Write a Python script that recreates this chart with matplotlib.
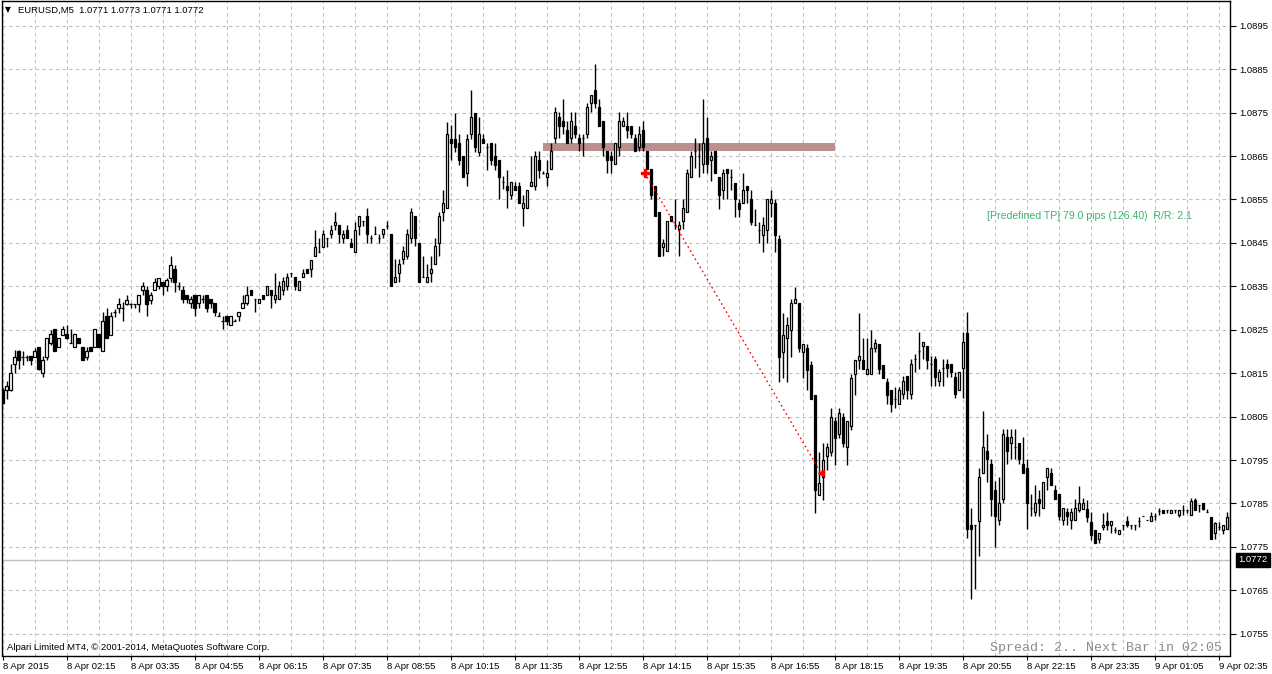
import matplotlib
matplotlib.use("Agg")
import matplotlib.pyplot as plt
from matplotlib.patches import Rectangle
import numpy as np

plt.rcParams['font.family'] = ['Liberation Sans', 'DejaVu Sans']

# EURUSD M5 candles (bar 0 = 8 Apr 00:55)
opens = [
    1.08112, 1.08112, 1.08112, 1.08171, 1.08201, 1.08188, 1.08187, 1.08190, 1.08188, 1.08210,
    1.08150, 1.08188, 1.08219, 1.08251, 1.08210, 1.08239, 1.08240, 1.08219, 1.08210, 1.08230,
    1.08210, 1.08188, 1.08210, 1.08210, 1.08240, 1.08200, 1.08281, 1.08239, 1.08290, 1.08299,
    1.08299, 1.08310, 1.08310, 1.08310, 1.08310, 1.08341, 1.08341, 1.08319, 1.08341, 1.08350,
    1.08360, 1.08350, 1.08370, 1.08389, 1.08350, 1.08342, 1.08331, 1.08312, 1.08331, 1.08312,
    1.08321, 1.08331, 1.08321, 1.08312, 1.08281, 1.08271, 1.08281, 1.08262, 1.08271, 1.08281,
    1.08300, 1.08312, 1.08342, 1.08321, 1.08312, 1.08331, 1.08331, 1.08342, 1.08321, 1.08321,
    1.08342, 1.08350, 1.08381, 1.08371, 1.08342, 1.08371, 1.08390, 1.08390, 1.08419, 1.08430,
    1.08440, 1.08461, 1.08471, 1.08491, 1.08491, 1.08461, 1.08480, 1.08450, 1.08430, 1.08490,
    1.08500, 1.08511, 1.08461, 1.08471, 1.08461, 1.08471, 1.08490, 1.08471, 1.08361, 1.08381,
    1.08412, 1.08421, 1.08461, 1.08511, 1.08450, 1.08372, 1.08361, 1.08381, 1.08402, 1.08450,
    1.08521, 1.08530, 1.08690, 1.08690, 1.08679, 1.08650, 1.08610, 1.08700, 1.08750, 1.08660,
    1.08690, 1.08670, 1.08679, 1.08650, 1.08641, 1.08591, 1.08580, 1.08561, 1.08580, 1.08580,
    1.08530, 1.08530, 1.08580, 1.08580, 1.08641, 1.08611, 1.08601, 1.08620, 1.08691, 1.08741,
    1.08731, 1.08711, 1.08691, 1.08720, 1.08691, 1.08691, 1.08701, 1.08772, 1.08802, 1.08762,
    1.08731, 1.08661, 1.08651, 1.08632, 1.08670, 1.08720, 1.08720, 1.08720, 1.08691, 1.08670,
    1.08711, 1.08661, 1.08620, 1.08580, 1.08521, 1.08441, 1.08431, 1.08511, 1.08492, 1.08481,
    1.08501, 1.08521, 1.08601, 1.08661, 1.08651, 1.08632, 1.08691, 1.08642, 1.08661, 1.08601,
    1.08571, 1.08620, 1.08602, 1.08589, 1.08541, 1.08541, 1.08581, 1.08550, 1.08491, 1.08479,
    1.08469, 1.08479, 1.08541, 1.08541, 1.08460, 1.08199, 1.08230, 1.08249, 1.08311, 1.08311,
    1.08199, 1.08208, 1.08170, 1.08099, 1.07869, 1.07911, 1.07959, 1.07969, 1.08040, 1.08009,
    1.08049, 1.07981, 1.08029, 1.08149, 1.08180, 1.08180, 1.08149, 1.08149, 1.08209, 1.08218,
    1.08170, 1.08129, 1.08111, 1.08090, 1.08080, 1.08102, 1.08144, 1.08102, 1.08182, 1.08202,
    1.08212, 1.08212, 1.08172, 1.08182, 1.08132, 1.08161, 1.08172, 1.08172, 1.08142, 1.08112,
    1.08161, 1.08242, 1.07801, 1.07801, 1.07809, 1.07921, 1.07971, 1.07942, 1.07882, 1.07811,
    1.07861, 1.08002, 1.07990, 1.07981, 1.07990, 1.07942, 1.07931, 1.07840, 1.07831, 1.07861,
    1.07840, 1.07911, 1.07921, 1.07882, 1.07871, 1.07811, 1.07831, 1.07811, 1.07811, 1.07835,
    1.07838, 1.07838, 1.07808, 1.07790, 1.07769, 1.07795, 1.07810, 1.07800, 1.07790, 1.07779,
    1.07800, 1.07810, 1.07800, 1.07800, 1.07810, 1.07821, 1.07812, 1.07810, 1.07821, 1.07833,
    1.07836, 1.07836, 1.07827, 1.07836, 1.07823, 1.07836, 1.07836, 1.07823, 1.07859, 1.07846,
    1.07850, 1.07831, 1.07819, 1.07781, 1.07796, 1.07790, 1.07792, 1.07828,
]
highs = [
    1.08115, 1.08131, 1.08171, 1.08203, 1.08203, 1.08200, 1.08192, 1.08190, 1.08207, 1.08210,
    1.08190, 1.08230, 1.08249, 1.08251, 1.08230, 1.08258, 1.08261, 1.08251, 1.08240, 1.08230,
    1.08210, 1.08211, 1.08210, 1.08251, 1.08240, 1.08291, 1.08299, 1.08291, 1.08297, 1.08322,
    1.08314, 1.08329, 1.08311, 1.08310, 1.08329, 1.08360, 1.08350, 1.08337, 1.08370, 1.08370,
    1.08360, 1.08370, 1.08419, 1.08400, 1.08360, 1.08350, 1.08331, 1.08327, 1.08331, 1.08331,
    1.08331, 1.08331, 1.08321, 1.08312, 1.08290, 1.08281, 1.08281, 1.08281, 1.08275, 1.08290,
    1.08331, 1.08350, 1.08342, 1.08321, 1.08321, 1.08331, 1.08350, 1.08342, 1.08381, 1.08362,
    1.08371, 1.08381, 1.08381, 1.08371, 1.08362, 1.08390, 1.08390, 1.08411, 1.08480, 1.08461,
    1.08480, 1.08461, 1.08491, 1.08521, 1.08491, 1.08480, 1.08491, 1.08461, 1.08499, 1.08511,
    1.08500, 1.08530, 1.08469, 1.08490, 1.08471, 1.08481, 1.08500, 1.08471, 1.08412, 1.08412,
    1.08442, 1.08481, 1.08530, 1.08511, 1.08450, 1.08421, 1.08402, 1.08421, 1.08461, 1.08521,
    1.08572, 1.08729, 1.08721, 1.08750, 1.08700, 1.08650, 1.08700, 1.08801, 1.08750, 1.08740,
    1.08700, 1.08679, 1.08679, 1.08679, 1.08641, 1.08605, 1.08619, 1.08590, 1.08590, 1.08590,
    1.08561, 1.08572, 1.08650, 1.08661, 1.08661, 1.08615, 1.08642, 1.08680, 1.08762, 1.08751,
    1.08781, 1.08731, 1.08751, 1.08751, 1.08701, 1.08701, 1.08772, 1.08791, 1.08861, 1.08781,
    1.08731, 1.08661, 1.08661, 1.08680, 1.08751, 1.08741, 1.08751, 1.08720, 1.08701, 1.08720,
    1.08731, 1.08661, 1.08620, 1.08580, 1.08521, 1.08459, 1.08501, 1.08511, 1.08551, 1.08501,
    1.08551, 1.08620, 1.08661, 1.08691, 1.08680, 1.08781, 1.08741, 1.08661, 1.08661, 1.08601,
    1.08620, 1.08620, 1.08620, 1.08589, 1.08550, 1.08610, 1.08581, 1.08571, 1.08529, 1.08499,
    1.08510, 1.08550, 1.08571, 1.08550, 1.08469, 1.08289, 1.08280, 1.08320, 1.08349, 1.08311,
    1.08218, 1.08218, 1.08179, 1.08099, 1.07969, 1.07990, 1.07990, 1.08069, 1.08049, 1.08069,
    1.08059, 1.08040, 1.08149, 1.08180, 1.08289, 1.08230, 1.08230, 1.08249, 1.08229, 1.08218,
    1.08170, 1.08140, 1.08111, 1.08119, 1.08119, 1.08144, 1.08144, 1.08182, 1.08194, 1.08244,
    1.08221, 1.08212, 1.08190, 1.08190, 1.08159, 1.08182, 1.08182, 1.08172, 1.08152, 1.08152,
    1.08244, 1.08292, 1.07840, 1.07801, 1.07931, 1.08062, 1.08011, 1.07952, 1.07902, 1.07911,
    1.08022, 1.08022, 1.08022, 1.08022, 1.07990, 1.08002, 1.07952, 1.07871, 1.07892, 1.07882,
    1.07899, 1.07931, 1.07931, 1.07892, 1.07871, 1.07840, 1.07840, 1.07840, 1.07861, 1.07890,
    1.07862, 1.07858, 1.07831, 1.07790, 1.07781, 1.07828, 1.07831, 1.07810, 1.07796, 1.07790,
    1.07800, 1.07821, 1.07800, 1.07800, 1.07819, 1.07821, 1.07812, 1.07831, 1.07827, 1.07840,
    1.07836, 1.07836, 1.07836, 1.07836, 1.07836, 1.07846, 1.07836, 1.07862, 1.07862, 1.07846,
    1.07850, 1.07838, 1.07819, 1.07808, 1.07808, 1.07800, 1.07831, 1.07835,
]
lows = [
    1.08078, 1.08090, 1.08110, 1.08150, 1.08160, 1.08169, 1.08177, 1.08169, 1.08188, 1.08158,
    1.08141, 1.08181, 1.08215, 1.08200, 1.08210, 1.08238, 1.08228, 1.08219, 1.08210, 1.08219,
    1.08181, 1.08181, 1.08200, 1.08210, 1.08210, 1.08200, 1.08230, 1.08239, 1.08280, 1.08289,
    1.08270, 1.08306, 1.08301, 1.08299, 1.08290, 1.08329, 1.08281, 1.08310, 1.08341, 1.08345,
    1.08329, 1.08340, 1.08360, 1.08337, 1.08341, 1.08312, 1.08312, 1.08300, 1.08281, 1.08300,
    1.08312, 1.08290, 1.08300, 1.08281, 1.08281, 1.08252, 1.08262, 1.08262, 1.08271, 1.08271,
    1.08300, 1.08306, 1.08331, 1.08290, 1.08312, 1.08321, 1.08331, 1.08300, 1.08312, 1.08321,
    1.08331, 1.08342, 1.08371, 1.08342, 1.08342, 1.08371, 1.08381, 1.08371, 1.08419, 1.08430,
    1.08440, 1.08440, 1.08461, 1.08480, 1.08450, 1.08450, 1.08461, 1.08440, 1.08430, 1.08469,
    1.08490, 1.08450, 1.08450, 1.08471, 1.08450, 1.08461, 1.08481, 1.08350, 1.08361, 1.08361,
    1.08402, 1.08412, 1.08450, 1.08442, 1.08361, 1.08372, 1.08361, 1.08361, 1.08402, 1.08421,
    1.08500, 1.08530, 1.08641, 1.08660, 1.08629, 1.08601, 1.08580, 1.08690, 1.08660, 1.08650,
    1.08679, 1.08619, 1.08629, 1.08619, 1.08551, 1.08575, 1.08530, 1.08551, 1.08572, 1.08542,
    1.08490, 1.08530, 1.08580, 1.08572, 1.08600, 1.08608, 1.08580, 1.08620, 1.08680, 1.08691,
    1.08701, 1.08680, 1.08680, 1.08691, 1.08661, 1.08651, 1.08691, 1.08751, 1.08760, 1.08720,
    1.08651, 1.08611, 1.08611, 1.08632, 1.08651, 1.08720, 1.08691, 1.08691, 1.08661, 1.08661,
    1.08661, 1.08620, 1.08551, 1.08511, 1.08419, 1.08419, 1.08431, 1.08501, 1.08481, 1.08419,
    1.08481, 1.08521, 1.08601, 1.08622, 1.08601, 1.08611, 1.08611, 1.08592, 1.08611, 1.08529,
    1.08550, 1.08550, 1.08571, 1.08510, 1.08510, 1.08541, 1.08541, 1.08491, 1.08491, 1.08449,
    1.08430, 1.08449, 1.08510, 1.08430, 1.08129, 1.08140, 1.08129, 1.08188, 1.08311, 1.08199,
    1.08140, 1.08111, 1.08090, 1.07829, 1.07869, 1.07858, 1.07928, 1.07959, 1.07938, 1.08000,
    1.07981, 1.07938, 1.08019, 1.08099, 1.08159, 1.08159, 1.08149, 1.08149, 1.08199, 1.08149,
    1.08140, 1.08080, 1.08060, 1.08069, 1.08080, 1.08090, 1.08090, 1.08090, 1.08152, 1.08159,
    1.08182, 1.08159, 1.08121, 1.08121, 1.08121, 1.08121, 1.08142, 1.08142, 1.08092, 1.08112,
    1.08092, 1.07771, 1.07630, 1.07652, 1.07728, 1.07921, 1.07899, 1.07821, 1.07750, 1.07801,
    1.07852, 1.07942, 1.07952, 1.07952, 1.07942, 1.07921, 1.07792, 1.07821, 1.07821, 1.07821,
    1.07840, 1.07882, 1.07892, 1.07861, 1.07811, 1.07801, 1.07801, 1.07792, 1.07811, 1.07831,
    1.07838, 1.07808, 1.07767, 1.07759, 1.07758, 1.07788, 1.07788, 1.07781, 1.07781, 1.07779,
    1.07788, 1.07796, 1.07792, 1.07790, 1.07796, 1.07821, 1.07812, 1.07810, 1.07812, 1.07824,
    1.07827, 1.07827, 1.07827, 1.07827, 1.07819, 1.07823, 1.07827, 1.07823, 1.07836, 1.07831,
    1.07836, 1.07831, 1.07769, 1.07769, 1.07788, 1.07780, 1.07792, 1.07788,
]
closes = [
    1.08081, 1.08121, 1.08150, 1.08188, 1.08181, 1.08188, 1.08187, 1.08181, 1.08201, 1.08159,
    1.08181, 1.08230, 1.08240, 1.08200, 1.08230, 1.08251, 1.08230, 1.08219, 1.08240, 1.08219,
    1.08181, 1.08200, 1.08200, 1.08251, 1.08210, 1.08270, 1.08230, 1.08281, 1.08290, 1.08310,
    1.08299, 1.08319, 1.08310, 1.08310, 1.08329, 1.08350, 1.08310, 1.08329, 1.08360, 1.08370,
    1.08350, 1.08365, 1.08400, 1.08360, 1.08350, 1.08321, 1.08320, 1.08321, 1.08300, 1.08331,
    1.08321, 1.08300, 1.08312, 1.08290, 1.08281, 1.08271, 1.08271, 1.08281, 1.08271, 1.08290,
    1.08312, 1.08331, 1.08331, 1.08321, 1.08321, 1.08321, 1.08350, 1.08331, 1.08331, 1.08350,
    1.08362, 1.08371, 1.08381, 1.08350, 1.08362, 1.08381, 1.08381, 1.08411, 1.08440, 1.08430,
    1.08471, 1.08461, 1.08480, 1.08499, 1.08471, 1.08471, 1.08461, 1.08440, 1.08480, 1.08511,
    1.08500, 1.08471, 1.08461, 1.08471, 1.08461, 1.08481, 1.08490, 1.08351, 1.08372, 1.08402,
    1.08431, 1.08471, 1.08521, 1.08461, 1.08361, 1.08372, 1.08372, 1.08391, 1.08442, 1.08511,
    1.08542, 1.08700, 1.08679, 1.08670, 1.08641, 1.08601, 1.08690, 1.08740, 1.08670, 1.08700,
    1.08679, 1.08670, 1.08641, 1.08629, 1.08601, 1.08591, 1.08572, 1.08590, 1.08572, 1.08542,
    1.08542, 1.08572, 1.08590, 1.08650, 1.08619, 1.08611, 1.08611, 1.08661, 1.08751, 1.08720,
    1.08720, 1.08680, 1.08731, 1.08701, 1.08680, 1.08691, 1.08762, 1.08791, 1.08772, 1.08720,
    1.08670, 1.08642, 1.08642, 1.08680, 1.08731, 1.08731, 1.08711, 1.08701, 1.08661, 1.08701,
    1.08670, 1.08620, 1.08561, 1.08511, 1.08419, 1.08450, 1.08501, 1.08501, 1.08492, 1.08492,
    1.08530, 1.08611, 1.08651, 1.08661, 1.08651, 1.08680, 1.08632, 1.08651, 1.08611, 1.08560,
    1.08610, 1.08610, 1.08602, 1.08550, 1.08529, 1.08571, 1.08571, 1.08499, 1.08491, 1.08479,
    1.08491, 1.08550, 1.08550, 1.08469, 1.08188, 1.08239, 1.08260, 1.08311, 1.08320, 1.08208,
    1.08218, 1.08157, 1.08090, 1.07881, 1.07898, 1.07950, 1.07981, 1.08049, 1.08000, 1.08059,
    1.07990, 1.08040, 1.08140, 1.08180, 1.08189, 1.08159, 1.08159, 1.08209, 1.08220, 1.08159,
    1.08140, 1.08099, 1.08080, 1.08090, 1.08111, 1.08132, 1.08112, 1.08172, 1.08182, 1.08202,
    1.08221, 1.08181, 1.08172, 1.08142, 1.08152, 1.08161, 1.08161, 1.08152, 1.08102, 1.08152,
    1.08221, 1.07792, 1.07792, 1.07801, 1.07911, 1.07981, 1.07952, 1.07861, 1.07821, 1.07852,
    1.08011, 1.07971, 1.08002, 1.07981, 1.07952, 1.07921, 1.07852, 1.07840, 1.07852, 1.07852,
    1.07899, 1.07931, 1.07892, 1.07861, 1.07821, 1.07840, 1.07821, 1.07831, 1.07840, 1.07850,
    1.07850, 1.07819, 1.07777, 1.07759, 1.07781, 1.07800, 1.07800, 1.07810, 1.07790, 1.07790,
    1.07800, 1.07800, 1.07800, 1.07800, 1.07810, 1.07821, 1.07812, 1.07821, 1.07821, 1.07833,
    1.07827, 1.07836, 1.07836, 1.07836, 1.07836, 1.07836, 1.07836, 1.07856, 1.07836, 1.07846,
    1.07838, 1.07831, 1.07769, 1.07804, 1.07796, 1.07800, 1.07819, 1.07788,
]

time_labels = ["8 Apr 2015", "8 Apr 02:15", "8 Apr 03:35", "8 Apr 04:55", "8 Apr 06:15",
               "8 Apr 07:35", "8 Apr 08:55", "8 Apr 10:15", "8 Apr 11:35", "8 Apr 12:55",
               "8 Apr 14:15", "8 Apr 15:35", "8 Apr 16:55", "8 Apr 18:15", "8 Apr 19:35",
               "8 Apr 20:55", "8 Apr 22:15", "8 Apr 23:35", "9 Apr 01:05", "9 Apr 02:35"]
price_levels = [1.0755, 1.0765, 1.0775, 1.0785, 1.0795, 1.0805, 1.0815, 1.0825,
                1.0835, 1.0845, 1.0855, 1.0865, 1.0875, 1.0885, 1.0895]
bid = 1.0772

# objects on the chart
zone_bars = (135.1, 208.0)
zone_prices = (1.08661, 1.08680)
signal_bars = (160.5, 204.5)
signal_prices = (1.08611, 1.07921)

W, H = 1272, 674
fig = plt.figure(figsize=(W / 100, H / 100), dpi=100)
fig.patch.set_facecolor('white')
L, R, T, B = 1.5, 1230, 1, 655.5
ax = fig.add_axes([L / W, (H - B) / H, (R - L) / W, (B - T) / H])

o = np.array(opens); h = np.array(highs); l = np.array(lows); c = np.array(closes)
x = np.arange(len(o))
bull = c >= o

ax.set_xlim(-0.25, 306.75)
ax.set_ylim(1.07500, 1.09007)

# grid
grid_kw = dict(color='#c0c0c0', lw=0.8, ls=(0, (3, 3)), zorder=0)
for p in price_levels:
    ax.axhline(p, **grid_kw)
for gx in range(0, 307, 8):
    ax.axvline(gx, **grid_kw)

# predefined zone
ax.add_patch(Rectangle((zone_bars[0], zone_prices[0]), zone_bars[1] - zone_bars[0],
                       zone_prices[1] - zone_prices[0], facecolor='#bc8f8f',
                       edgecolor='none', zorder=1))

# bid line
ax.axhline(bid, color='#c0c0c0', lw=1, zorder=1)

# candles
ax.vlines(x, l, h, color='black', lw=1.0, zorder=3)
bottom = np.minimum(o, c)
height = np.abs(c - o)
ax.bar(x, height, bottom=bottom, width=0.55,
       color=np.where(bull, 'white', 'black'), edgecolor='black', lw=0.9, zorder=4)

# signal line
ax.plot(signal_bars, signal_prices, color='red', lw=1, ls=(0, (1.2, 2.2)), zorder=5)
ax.plot(signal_bars[0], signal_prices[0], marker='P', color='red', ms=5.5, zorder=6)
ax.plot(signal_bars[1], signal_prices[1], marker='<', color='red', ms=5, zorder=6)

# axes styling
for s in ax.spines.values():
    s.set_color('black'); s.set_linewidth(1)
ax.yaxis.tick_right()
ax.set_yticks(price_levels)
ax.set_yticklabels([f"{p:.4f}" for p in price_levels])
ax.tick_params(axis='y', length=4, width=0.8, pad=3, labelsize=6.8, colors='black')
ax.set_xticks(range(0, 16 * len(time_labels), 16))
ax.set_xticklabels(time_labels, ha='left')
ax.tick_params(axis='x', length=3, width=0.8, pad=1.5, labelsize=6.8, colors='black')

# bid box on the price scale
ax.text(1.0 + 8 / (R - L), bid, f"{bid:.4f}", transform=ax.get_yaxis_transform(),
        ha='left', va='center', fontsize=6.8, color='white', zorder=10,
        bbox=dict(boxstyle='square,pad=0.25', facecolor='black', edgecolor='black'),
        clip_on=False)

# texts
fig.text(5 / W, 1 - 10 / H, "\u25bc", fontsize=5.5, family='DejaVu Sans', va='center', ha='left')
fig.text(18 / W, 1 - 10 / H, "EURUSD,M5  1.0771 1.0773 1.0771 1.0772", fontsize=6.8,
         va='center', ha='left')
fig.text(7 / W, 1 - 648 / H, "Alpari Limited MT4, \u00a9 2001-2014, MetaQuotes Software Corp.",
         fontsize=6.8, va='center', ha='left')
fig.text(1222 / W, 1 - 648 / H, "Spread: 2.. Next Bar in 02:05", fontsize=9.6,
         family='Liberation Mono', color='#8c8c8c', va='center', ha='right')
fig.text(987 / W, 1 - 216 / H, "[Predefined TP] 79.0 pips (126.40)  R/R: 2.1", fontsize=7.6,
         color='#3cb371', va='center', ha='left')

fig.savefig("out.png", dpi=100, facecolor='white')
